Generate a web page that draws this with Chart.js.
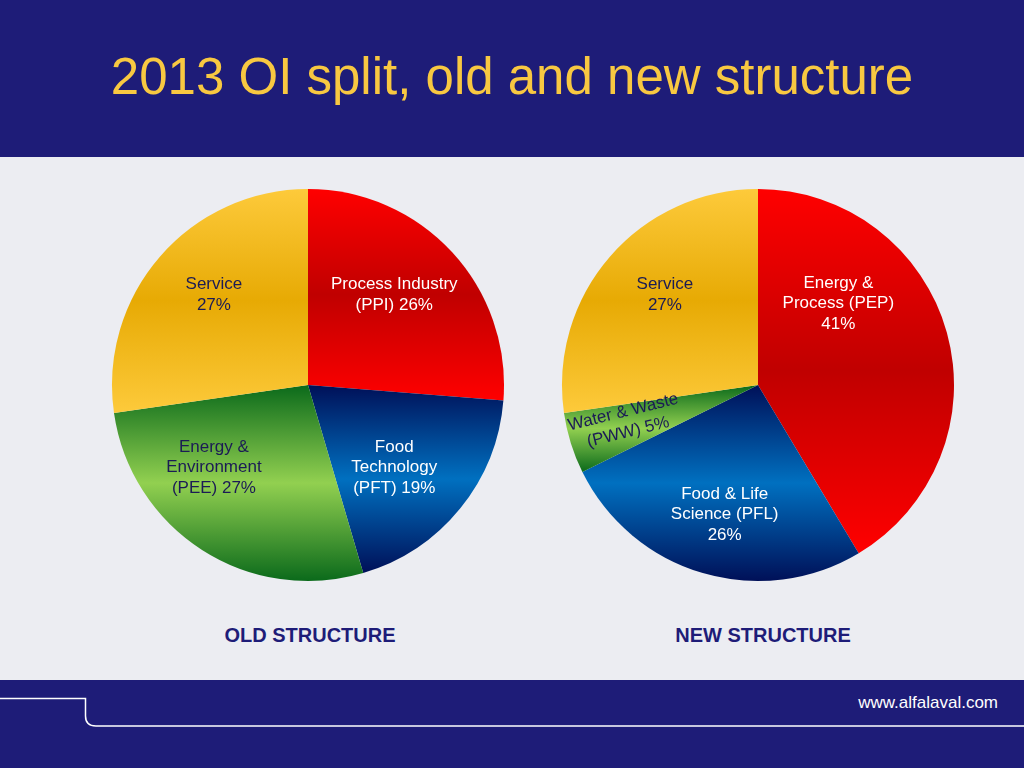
<!DOCTYPE html>
<html>
<head>
<meta charset="utf-8">
<script src="https://cdn.jsdelivr.net/npm/chart.js@4"></script>
<style>
  html, body { margin: 0; padding: 0; }
  body { width: 1024px; height: 768px; background: #ecedf2; position: relative; overflow: hidden; font-family: "Liberation Sans", Arial, sans-serif; }
  #header { position: absolute; left: 0; top: 0; width: 1024px; height: 157px; background: #1e1c78; }
  #title { position: absolute; left: 0; width: 1024px; top: 46px; text-align: center; color: #f8c841; font-size: 51px; line-height: 62px; }
  #footer { position: absolute; left: 0; top: 680px; width: 1024px; height: 88px; background: #1e1c78; }
  #url { position: absolute; right: 26px; top: 693px; color: #ffffff; font-size: 17px; }
  .pie { position: absolute; top: 185px; width: 400px; height: 400px; }
  .caption { position: absolute; top: 623px; width: 300px; text-align: center; color: #1e1c78; font-weight: bold; font-size: 20px; line-height: 24px; }
  svg { position: absolute; left: 0; top: 0; }
</style>
</head>
<body>
<div id="header"></div>
<div id="title">2013 OI split, old and new structure</div>
<div id="footer"></div>
<svg width="1024" height="768"><path d="M0 698.5 H85.5 V716 Q85.5 726 96 726 H1024" fill="none" stroke="#ffffff" stroke-width="1.5"/></svg>
<div id="url">www.alfalaval.com</div>

<div class="pie" style="left:108px"><canvas id="old-chart"></canvas></div>
<div class="pie" style="left:558px"><canvas id="new-chart"></canvas></div>
<div class="caption" style="left:160px">OLD STRUCTURE</div>
<div class="caption" style="left:613px">NEW STRUCTURE</div>

<script>
// Old structure (clockwise from 12 o'clock)
const oldLabels = ['Process Industry (PPI)', 'Food Technology (PFT)', 'Energy & Environment (PEE)', 'Service'];
const oldValues = [26, 19, 27, 27];
const oldText = [['Process Industry', '(PPI) 26%'], ['Food', 'Technology', '(PFT) 19%'], ['Energy &', 'Environment', '(PEE) 27%'], ['Service', '27%']];
const oldColors = ['red', 'blue', 'green', 'yellow'];
const oldTextColors = ['#ffffff', '#ffffff', '#1b1b55', '#1b1b55'];
const oldTextOffsets = [[0.44, -0.46], [0.44, 0.42], [-0.48, 0.42], [-0.48, -0.46]];
const oldTextRotation = [0, 0, 0, 0];

// New structure
const newLabels = ['Energy & Process (PEP)', 'Food & Life Science (PFL)', 'Water & Waste (PWW)', 'Service'];
const newValues = [41, 26, 5, 27];
const newText = [['Energy &', 'Process (PEP)', '41%'], ['Food & Life', 'Science (PFL)', '26%'], ['Water & Waste', '(PWW) 5%'], ['Service', '27%']];
const newColors = ['red', 'blue', 'green', 'yellow'];
const newTextColors = ['#ffffff', '#ffffff', '#1b1b55', '#1b1b55'];
const newTextOffsets = [[0.41, -0.415], [-0.17, 0.66], [-0.675, 0.19], [-0.475, -0.46]];
const newTextRotation = [0, 0, -14, 0];

// edge / middle / edge colours of each slice gradient
const gradients = {
  red: ['#ff0000', '#c00000', '#ff0000'],
  yellow: ['#fdca3b', '#e7aa04', '#fdca3b'],
  green: ['#0b6a1b', '#92d050', '#0b6a1b'],
  blue: ['#001058', '#0070c0', '#001058']
};

// vertical gradient across the slice's own bounding box
function sliceFill(context) {
  const chart = context.chart;
  const area = chart.chartArea;
  const names = chart.options.plugins.sliceLabels.colors;
  const stops = gradients[names[context.dataIndex]];
  if (!area) return stops[1];
  const data = chart.data.datasets[0].data;
  const total = data.reduce((a, b) => a + b, 0);
  let before = 0;
  for (let i = 0; i < context.dataIndex; i++) before += data[i];
  const cx = (area.left + area.right) / 2;
  const cy = (area.top + area.bottom) / 2;
  const r = Math.min(area.width, area.height) / 2;
  const a0 = -Math.PI / 2 + 2 * Math.PI * before / total;
  const a1 = a0 + 2 * Math.PI * data[context.dataIndex] / total;
  const ys = [cy, cy + r * Math.sin(a0), cy + r * Math.sin(a1)];
  [-Math.PI / 2, Math.PI / 2, 3 * Math.PI / 2].forEach(c => {
    if (c >= a0 && c <= a1) ys.push(cy + r * Math.sin(c));
  });
  const top = Math.min(...ys), bottom = Math.max(...ys);
  const g = chart.ctx.createLinearGradient(0, top, 0, bottom);
  g.addColorStop(0, stops[0]);
  g.addColorStop(0.5, stops[1]);
  g.addColorStop(1, stops[2]);
  return g;
}

// draws the text blocks inside the slices
const sliceLabelsPlugin = {
  id: 'sliceLabels',
  afterDatasetsDraw(chart, args, opts) {
    const ctx = chart.ctx;
    const meta = chart.getDatasetMeta(0);
    ctx.save();
    ctx.font = '17px "Liberation Sans", Arial, sans-serif';
    ctx.textAlign = 'center';
    ctx.textBaseline = 'middle';
    meta.data.forEach((arc, i) => {
      const lines = opts.text[i];
      const x = arc.x + opts.offsets[i][0] * arc.outerRadius;
      const y = arc.y + opts.offsets[i][1] * arc.outerRadius;
      const lh = 20.5;
      ctx.save();
      ctx.translate(x, y);
      ctx.rotate(opts.rotation[i] * Math.PI / 180);
      ctx.fillStyle = opts.textColors[i];
      lines.forEach((line, k) => {
        ctx.fillText(line, 0, (k - (lines.length - 1) / 2) * lh);
      });
      ctx.restore();
    });
    ctx.restore();
  }
};

function makePie(id, labels, values, colors, text, textColors, offsets, rotation) {
  return new Chart(document.getElementById(id), {
    type: 'pie',
    data: {
      labels: labels,
      datasets: [{
        data: values,
        backgroundColor: sliceFill,
        borderWidth: 0
      }]
    },
    options: {
      responsive: true,
      maintainAspectRatio: false,
      animation: false,
      layout: { padding: 4 },
      plugins: {
        legend: { display: false },
        tooltip: { enabled: false },
        sliceLabels: { colors: colors, text: text, textColors: textColors, offsets: offsets, rotation: rotation }
      }
    },
    plugins: [sliceLabelsPlugin]
  });
}

makePie('old-chart', oldLabels, oldValues, oldColors, oldText, oldTextColors, oldTextOffsets, oldTextRotation);
makePie('new-chart', newLabels, newValues, newColors, newText, newTextColors, newTextOffsets, newTextRotation);
</script>
</body>
</html>
